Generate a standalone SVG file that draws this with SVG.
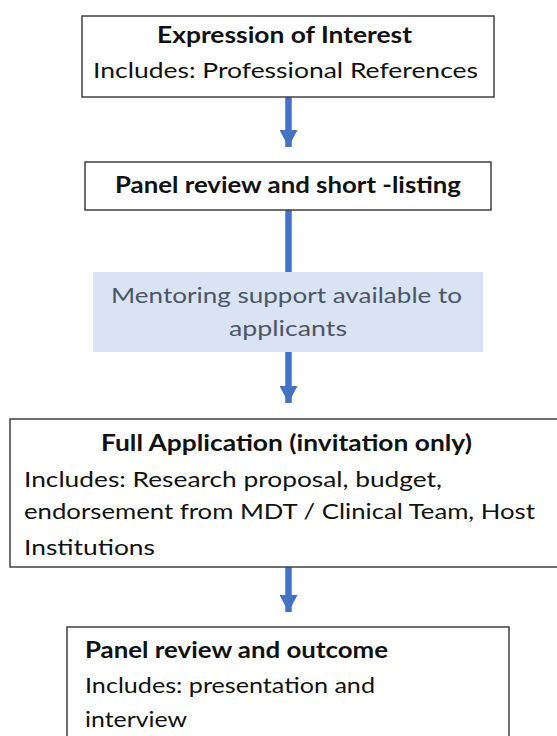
<svg xmlns="http://www.w3.org/2000/svg" width="557" height="736" viewBox="0 0 557 736">
<defs>
<style>
.box{fill:#ffffff;stroke:#404040;stroke-width:1.5}
.note{fill:#dae3f3;stroke:none}
.t{font-family:Lato,"Open Sans","Liberation Sans",sans-serif;font-size:22px;fill:#111111}
.b{font-weight:bold}
.n{fill:#4b5666}
.conn{stroke:#4472c4;stroke-width:6.5;fill:none}
</style>
<marker id="ah" markerUnits="userSpaceOnUse" markerWidth="20" markerHeight="18" refX="17" refY="9" orient="auto">
<path d="M0,0 L17,9 L0,18 Z" fill="#4472c4"/>
</marker>
</defs>
<rect width="557" height="736" fill="#ffffff"/>
<g id="connectors">
<line class="conn" x1="288.5" y1="97" x2="288.5" y2="147" marker-end="url(#ah)"/>
<line class="conn" x1="288.5" y1="210" x2="288.5" y2="403" marker-end="url(#ah)"/>
<line class="conn" x1="288.5" y1="567" x2="288.5" y2="612" marker-end="url(#ah)"/>
</g>
<g id="expression">
<rect class="box" x="82" y="16" width="412" height="81"/>
<text class="t b" x="157" y="43" textLength="255" lengthAdjust="spacingAndGlyphs">Expression of Interest</text>
<text class="t" x="93" y="78" textLength="385" lengthAdjust="spacingAndGlyphs">Includes: Professional References</text>
</g>
<g id="shortlisting">
<rect class="box" x="85" y="162" width="406" height="48"/>
<text class="t b" x="115" y="193" textLength="346" lengthAdjust="spacingAndGlyphs">Panel review and short -listing</text>
</g>
<g id="mentoring">
<rect class="note" x="93" y="272" width="390" height="80"/>
<text class="t n" x="111" y="303" textLength="351" lengthAdjust="spacingAndGlyphs">Mentoring support available to</text>
<text class="t n" x="229" y="336" textLength="118" lengthAdjust="spacingAndGlyphs">applicants</text>
</g>
<g id="full-application">
<rect class="box" x="10" y="419" width="560" height="148"/>
<text class="t b" x="101" y="451" textLength="371" lengthAdjust="spacingAndGlyphs">Full Application (invitation only)</text>
<text class="t" x="24" y="487" textLength="418" lengthAdjust="spacingAndGlyphs">Includes: Research proposal, budget,</text>
<text class="t" x="24" y="519" textLength="511" lengthAdjust="spacingAndGlyphs">endorsement from MDT / Clinical Team, Host</text>
<text class="t" x="24" y="555" textLength="131" lengthAdjust="spacingAndGlyphs">Institutions</text>
</g>
<g id="outcome">
<rect class="box" x="67" y="627" width="442" height="120"/>
<text class="t b" x="85" y="658" textLength="303" lengthAdjust="spacingAndGlyphs">Panel review and outcome</text>
<text class="t" x="85" y="693" textLength="290" lengthAdjust="spacingAndGlyphs">Includes: presentation and</text>
<text class="t" x="85" y="727" textLength="102" lengthAdjust="spacingAndGlyphs">interview</text>
</g>
</svg>
